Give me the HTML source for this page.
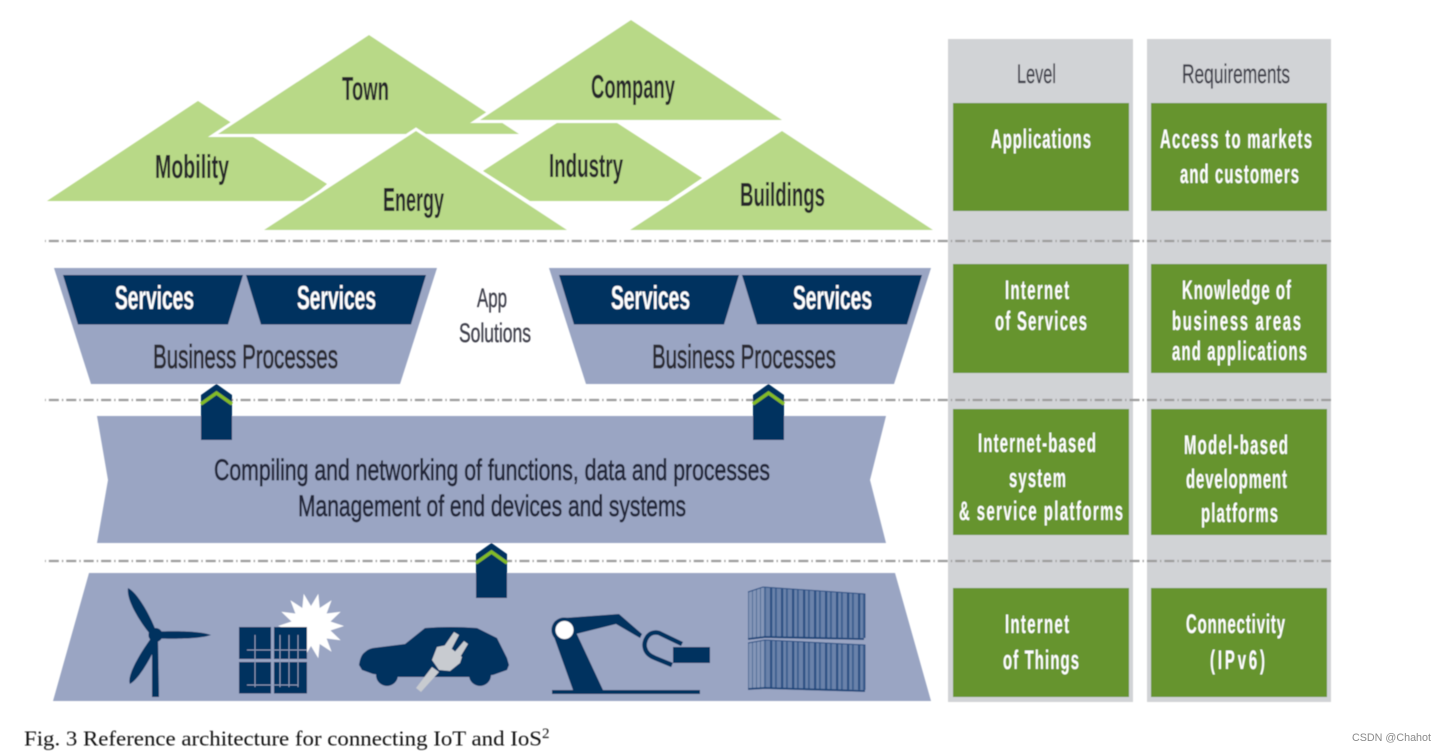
<!DOCTYPE html>
<html><head><meta charset="utf-8"><style>
html,body{margin:0;padding:0;background:#fff;width:1446px;height:751px;overflow:hidden}
svg{display:block}
text{font-family:"Liberation Sans",sans-serif}
.d{font-size:33px;fill:#26262a;font-weight:bold}
.s{font-size:33px;fill:#fff;font-weight:bold}
.b{font-size:33px;fill:#2a2a33;stroke:#2a2a33;stroke-width:.8}
.m{font-size:30px;fill:#24283a;stroke:#24283a;stroke-width:.7}
.t{font-size:27px;fill:#3c3d48;stroke:#3c3d48;stroke-width:.3}
.g{font-size:27px;fill:#fff;font-weight:bold}
.c{font-family:"Liberation Serif",serif;font-size:21.5px;fill:#111}
.dash{stroke:#9c9c9c;stroke-width:2.2;stroke-dasharray:10 3.1 1.3 3.03;stroke-dashoffset:13.6;fill:none}
</style></head><body>
<svg width="1446" height="751" viewBox="0 0 1446 751" xmlns="http://www.w3.org/2000/svg">
<defs>
<pattern id="st" width="11" height="10" patternUnits="userSpaceOnUse"><rect width="11" height="10" fill="#6b82aa"/><rect width="2.2" height="10" fill="#2a5083"/><rect x="5" width="1.800" height="10" fill="#3a5d8e"/></pattern>
<pattern id="sd" width="4" height="10" patternUnits="userSpaceOnUse"><rect width="4" height="10" fill="#8496b8"/><rect width="1" height="10" fill="#4f6c98"/></pattern>
<filter id="bl" x="-2%" y="-2%" width="104%" height="104%"><feGaussianBlur stdDeviation="0.45"/></filter>
</defs>
<rect width="1446" height="751" fill="#fff"/>
<g filter="url(#bl)">

<!-- side columns -->
<rect x="948" y="39" width="185" height="663" fill="#d1d3d6"/>
<rect x="1147" y="39" width="184" height="663" fill="#d1d3d6"/>
<g fill="#66942e">
<rect x="953" y="103" width="176" height="108"/><rect x="1151" y="103" width="176" height="108"/>
<rect x="953" y="264" width="176" height="109"/><rect x="1151" y="264" width="176" height="109"/>
<rect x="953" y="409" width="176" height="126"/><rect x="1151" y="409" width="176" height="126"/>
<rect x="953" y="588" width="176" height="109"/><rect x="1151" y="588" width="176" height="109"/>
</g>

<!-- dashed lines -->
<line class="dash" x1="45" y1="241" x2="1331" y2="241"/>
<line class="dash" x1="45" y1="400" x2="1331" y2="400"/>
<line class="dash" x1="45" y1="561" x2="1331" y2="561"/>

<!-- triangles -->
<g fill="#b8d987" stroke="#fff" stroke-width="6" paint-order="stroke" stroke-linejoin="miter">
<polygon stroke="none" points="47,201 198,101 253,137 327,184 307,201"/>
<polygon points="369,35 519,134 218,134"/>
<polygon stroke="none" points="483,171 557,123 617,123 702,178 668,201 530,201"/>
<polygon points="416,131 567,230 264,230"/>
<polygon points="631,20 782,120 480,120"/>
<polygon points="782,131 933,230 630,230"/>
</g>
<text class="d" x="155" y="178" textLength="74" lengthAdjust="spacingAndGlyphs">Mobility</text>
<text class="d" x="342" y="100" textLength="47" lengthAdjust="spacingAndGlyphs">Town</text>
<text class="d" x="383" y="211" textLength="61" lengthAdjust="spacingAndGlyphs">Energy</text>
<text class="d" x="591" y="98" textLength="84" lengthAdjust="spacingAndGlyphs">Company</text>
<text class="d" x="549" y="177" textLength="74" lengthAdjust="spacingAndGlyphs">Industry</text>
<text class="d" x="740" y="206" textLength="85" lengthAdjust="spacingAndGlyphs">Buildings</text>

<!-- service trapezoids -->
<g fill="#9aa5c3">
<polygon points="54,268 437,268 400,384 91,384"/>
<polygon points="549,268 931,268 894,384 586,384"/>
<polygon points="97,416 886,416 870,480 886,543 97,543 108,480"/>
<polygon points="89,573 895,573 931,701 53,701"/>
</g>
<g fill="#00305f">
<polygon points="63,275 243,275 228,324.5 78,324.5"/>
<polygon points="246,275 426,275 411,324.5 261,324.5"/>
<polygon points="559,275 739,275 724,324.5 574,324.5"/>
<polygon points="742,275 922,275 907,324.5 757,324.5"/>
</g>
<text class="s" x="115" y="309" textLength="79" lengthAdjust="spacingAndGlyphs">Services</text>
<text class="s" x="297" y="309" textLength="79" lengthAdjust="spacingAndGlyphs">Services</text>
<text class="s" x="611" y="309" textLength="79" lengthAdjust="spacingAndGlyphs">Services</text>
<text class="s" x="793" y="309" textLength="79" lengthAdjust="spacingAndGlyphs">Services</text>
<text class="b" x="153" y="368" textLength="185" lengthAdjust="spacingAndGlyphs">Business Processes</text>
<text class="b" x="652" y="368" textLength="184" lengthAdjust="spacingAndGlyphs">Business Processes</text>
<text class="t" x="477" y="307" textLength="30" lengthAdjust="spacingAndGlyphs">App</text>
<text class="t" x="459" y="342" textLength="72" lengthAdjust="spacingAndGlyphs">Solutions</text>
<text class="m" x="214" y="480" textLength="556" lengthAdjust="spacingAndGlyphs">Compiling and networking of functions, data and processes</text>
<text class="m" x="298" y="516" textLength="388" lengthAdjust="spacingAndGlyphs">Management of end devices and systems</text>

<!-- arrows -->
<g fill="#00305f">
<polygon points="216.5,384 232,395 232,440 201,440 201,395"/>
<polygon points="768.5,384 784,395 784,440 753,440 753,395"/>
<polygon points="491.5,543 507,554 507,598 476,598 476,554"/>
</g>
<g fill="none" stroke="#83bb26" stroke-width="3.5">
<polyline points="201,404 216.5,393 232,404"/>
<polyline points="753,404 768.5,393 784,404"/>
<polyline points="476,563 491.5,552 507,563"/>
</g>

<!-- turbine -->
<g fill="#00305f">
<polygon points="152,638 158,638 159,697 152,697"/>
<circle cx="155.5" cy="635" r="7"/>
<path d="M128,588 C137,592 150,615 156,631 L150,634 C140,622 126,600 128,588Z"/>
<path d="M160,631.500 C175,631 200,631 211,635 C200,639 175,639 160,638.500Z"/>
<path d="M152,637 L158,641 C152,656 140,678 130,684 C126,676 142,650 152,637Z"/>
</g>
<!-- star + solar -->
<polygon fill="#fff" points="344,626 330.5,630.5 340.7,640.3 326.6,638.5 331.6,651.8 319.7,644 318.3,658.2 311,646 303.7,658.2 302.3,644 290.4,651.8 295.4,638.5 281.3,640.3 291.5,630.5 278,626 291.5,621.5 281.3,611.7 295.4,613.5 290.4,600.2 302.3,608 303.7,593.8 311,606 318.3,593.8 319.7,608 331.6,600.2 326.6,613.5 340.7,611.7 330.5,621.5"/>
<g fill="#00305f">
<rect x="239" y="627" width="32" height="32"/><rect x="274" y="627" width="33" height="32"/>
<rect x="239" y="662" width="32" height="31.5"/><rect x="274" y="662" width="33" height="31.5"/>
</g>
<g stroke="#8b9ab8" stroke-width="1" fill="none">
<path d="M255,635V687M280,635V687M289,635V687M298,635V687M247,650H307M247,685H298"/>
</g>
<!-- car -->
<g fill="#00305f">
<path d="M359,665 C360,658 362,654 365,652 Q368,649 373,648 L405,644 L425,628 Q450,626 477,628 L497,638 L507,658 L509,665 L507,670 L493,675 L470,677 L400,677 L373,674 L362,670 Z"/>
<circle cx="387" cy="675" r="11"/>
<circle cx="480" cy="675" r="11"/>
</g>
<g fill="#c8cbd0">
<polygon points="437,647 447,645 462,657 460,663 450,671 439,670 432,660"/>
<polygon points="416,688 432,667 439,672 421,692"/>
<polygon points="443,648 454,632 459,635 450,652"/>
<polygon points="453,654 464,641 468,644 459,659"/>
</g>
<!-- robot -->
<g fill="#00305f">
<rect x="552" y="690" width="148" height="4"/>
<polygon points="553,634 573,690 603,690 575,630"/>
<polygon points="564,618 619,614 642,634 640,638 616,624 572,635"/>
<circle cx="564" cy="630" r="12.5"/>
<rect x="673" y="647" width="37" height="16"/>
</g>
<circle cx="564.5" cy="630" r="9" fill="#fff"/>
<path fill="none" stroke="#00305f" stroke-width="4.5" d="M682,644 L659,633 C648,630 643,642 645,648 C646,653 650,656 655,658 L672,665"/>
<!-- containers -->
<polygon fill="url(#sd)" points="748,592 765,587 765,637 748,638"/>
<polygon fill="url(#st)" points="765,587 865,594 865,638 765,637"/>
<polygon fill="url(#sd)" points="748,643 765,640 765,688 748,688"/>
<polygon fill="url(#st)" points="765,640 865,645 865,690 765,688"/>
<g fill="none" stroke="#1d4477" stroke-width="1.8">
<path d="M748,639 L765,637 L864,639"/>
<path d="M748,689 L765,688 L865,691"/>
</g>
<g fill="none" stroke="#2a5083" stroke-width="1">
<path d="M748,592 L763,587 L865,594 V638"/>
<path d="M748,643 L765,640 L865,645 V690"/>
</g>

<!-- side labels -->
<text class="t" x="1017" y="83" textLength="39" lengthAdjust="spacingAndGlyphs">Level</text>
<text class="t" x="1182" y="83" textLength="108" lengthAdjust="spacingAndGlyphs">Requirements</text>
<text class="g" transform="translate(991,148) scale(.55,1)" textLength="181.8" lengthAdjust="spacing">Applications</text>
<text class="g" transform="translate(1160,148) scale(.55,1)" textLength="276.4" lengthAdjust="spacing">Access to markets</text>
<text class="g" transform="translate(1180,183) scale(.55,1)" textLength="216.4" lengthAdjust="spacing">and customers</text>
<text class="g" transform="translate(1005,299) scale(.55,1)" textLength="116.4" lengthAdjust="spacing">Internet</text>
<text class="g" transform="translate(995,330) scale(.55,1)" textLength="167.3" lengthAdjust="spacing">of Services</text>
<text class="g" transform="translate(1182,299) scale(.55,1)" textLength="198.2" lengthAdjust="spacing">Knowledge of</text>
<text class="g" transform="translate(1172,330) scale(.55,1)" textLength="234.5" lengthAdjust="spacing">business  areas</text>
<text class="g" transform="translate(1172,360) scale(.55,1)" textLength="245.5" lengthAdjust="spacing">and applications</text>
<text class="g" transform="translate(978,452) scale(.55,1)" textLength="214.5" lengthAdjust="spacing">Internet-based</text>
<text class="g" transform="translate(1009,487) scale(.55,1)" textLength="103.6" lengthAdjust="spacing">system</text>
<text class="g" transform="translate(959,520) scale(.55,1)" textLength="298.2" lengthAdjust="spacing">&amp; service platforms</text>
<text class="g" transform="translate(1184,454) scale(.55,1)" textLength="189.1" lengthAdjust="spacing">Model-based</text>
<text class="g" transform="translate(1186,488) scale(.55,1)" textLength="183.6" lengthAdjust="spacing">development</text>
<text class="g" transform="translate(1201,522) scale(.55,1)" textLength="140" lengthAdjust="spacing">platforms</text>
<text class="g" transform="translate(1005,633) scale(.55,1)" textLength="116.4" lengthAdjust="spacing">Internet</text>
<text class="g" transform="translate(1003,669) scale(.55,1)" textLength="138.2" lengthAdjust="spacing">of Things</text>
<text class="g" transform="translate(1186,633) scale(.55,1)" textLength="180" lengthAdjust="spacing">Connectivity</text>
<text class="g" transform="translate(1210,669) scale(.55,1)" textLength="100" lengthAdjust="spacing">(IPv6)</text>

<!-- caption -->
<text class="c" x="24" y="745.5" textLength="518" lengthAdjust="spacingAndGlyphs">Fig. 3 Reference architecture for connecting IoT and IoS</text>
<text class="c" x="542" y="738" style="font-size:15px">2</text>
</g>
<text x="1352" y="741" style="font-size:11px;fill:#8a8a8a" textLength="79" lengthAdjust="spacingAndGlyphs">CSDN @Chahot</text>
</svg>
</body></html>
